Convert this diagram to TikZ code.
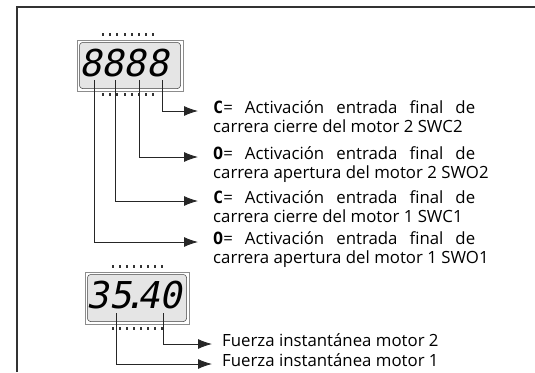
\documentclass[tikz,border=0pt]{standalone}
\usepackage{fontspec}
\setmainfont{Open Sans}
\newfontfamily\lcdfont[FakeSlant=0.2]{DejaVu Sans Mono}
\newfontfamily\segfont{DejaVu Sans Mono}
\usetikzlibrary{arrows.meta}
\tikzset{
  pantalla/.style={draw=black!45, line width=0.5pt},
  visor/.style={draw=black!75, fill=black!10, rounded corners=3pt, line width=0.5pt},
  digitos/.style={font=\lcdfont\fontsize{37}{37}\selectfont, inner sep=0pt},
  etiqueta/.style={font=\fontsize{16.8}{19}\selectfont, text width=262pt, align=justify,
    inner xsep=15pt, inner ysep=0pt, anchor=mid west},
  fuerza/.style={font=\fontsize{16.8}{19}\selectfont, inner xsep=10pt, inner ysep=0pt, anchor=mid west},
  enlace/.style={->, line width=0.9pt, black!85}
}
\newcommand{\simC}{{\segfont\bfseries C}}
\newcommand{\simO}{{\segfont\bfseries O}}
\begin{document}
\begin{tikzpicture}[>={Latex[length=14pt,width=10pt]}, x=1pt, y=-1pt]
    \useasboundingbox (0,0) rectangle (535,372);
    % Marco
    \draw[black!80, line width=1.5pt] (17,372) -- (17,7) -- (535,7);

    % Pantalla 8888
    \draw[pantalla] (77,40) rectangle (183,91);
    \draw[visor] (79.5,42.5) rectangle (180.5,88.5);
    \node[digitos] (disp1) at (124,63.5) {8888};
    \foreach \i in {0,...,7} {
        \fill[black!80] (102+7.2*\i,32.5) rectangle ++(2,3);
        \fill[black!80] (102+7.2*\i,93) rectangle ++(2,3);
    }
    \coordinate (c1) at (94,80);
    \coordinate (c2) at (115,80);
    \coordinate (c3) at (139,80);
    \coordinate (c4) at (162,80);

    % Textos de las entradas
    \node[etiqueta] (lab1) at (198,111) {\simC= Activación entrada final de\linebreak \mbox{carrera cierre del motor 2 SWC2}};
    \node[etiqueta] (lab2) at (198,157) {\simO= Activación entrada final de\linebreak \mbox{carrera apertura del motor 2 SWO2}};
    \node[etiqueta] (lab3) at (198,201) {\simC= Activación entrada final de\linebreak \mbox{carrera cierre del motor 1 SWC1}};
    \node[etiqueta] (lab4) at (198,242) {\simO= Activación entrada final de\linebreak \mbox{carrera apertura del motor 1 SWO1}};
    \draw[enlace] (c4) |- (lab1.mid west);
    \draw[enlace] (c3) |- (lab2.mid west);
    \draw[enlace] (c2) |- (lab3.mid west);
    \draw[enlace] (c1) |- (lab4.mid west);

    % Pantalla 35.40
    \draw[pantalla] (85,272) rectangle (189,324);
    \draw[visor] (87.5,274.5) rectangle (186.5,321.5);
    \node[digitos] (disp2) at (134.5,295) {35\kern-8pt.\kern-8pt40};
    \foreach \i in {0,...,7} {
        \fill[black!80] (112+7*\i,264.5) rectangle ++(2,3);
        \fill[black!80] (112+7*\i,326.5) rectangle ++(2,3);
    }
    \coordinate (f1) at (116,313);
    \coordinate (f2) at (163,313);

    % Fuerza
    \node[fuerza] (mot2) at (212,344) {Fuerza instantánea motor 2};
    \node[fuerza] (mot1) at (212,364) {Fuerza instantánea motor 1};
    \draw[enlace] (f2) |- (mot2.mid west);
    \draw[enlace] (f1) |- (mot1.mid west);
\end{tikzpicture}
\end{document}
